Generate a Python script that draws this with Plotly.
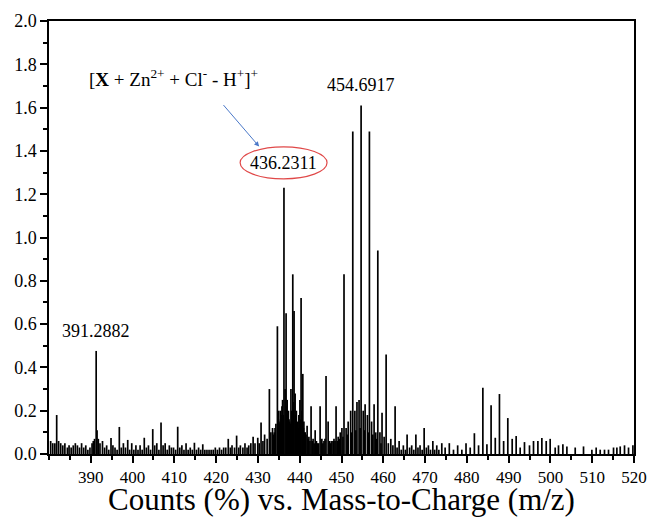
import plotly.graph_objects as go

# ---- data (m/z, relative intensity) ----
mz = [
    380.4, 380.9, 381.4, 381.84, 382.3, 382.8, 383.3, 383.8, 384.4, 384.8, 385.3, 385.8,
    386.3, 386.8, 387.3, 387.8, 388.3, 388.8, 389.3, 389.8, 390.3, 390.6, 390.9, 391.29,
    391.5, 391.8, 392.2, 392.8, 393.3, 393.8, 394.3, 394.84, 395.3, 395.8, 396.3, 396.83,
    397.3, 397.8, 398.3, 398.84, 399.3, 399.8, 400.3, 400.8, 401.3, 401.8, 402.3, 402.8,
    403.3, 403.8, 404.3, 404.83, 405.3, 405.8, 406.3, 406.81, 407.3, 407.8, 408.3, 408.8,
    409.3, 409.8, 410.3, 410.8, 411.3, 411.8, 412.3, 412.8, 413.3, 413.8, 414.3, 414.8,
    415.3, 415.8, 416.3, 416.8, 417.3, 417.8, 418.3, 418.8, 419.3, 419.8, 420.3, 420.8,
    421.3, 421.8, 422.3, 422.9, 423.4, 423.8, 424.4, 424.9, 425.4, 425.8, 426.4, 426.9,
    427.4, 427.8, 428.3, 428.85, 429.3, 429.96, 430.3, 430.75, 431.2, 431.6, 432.2, 432.74,
    433.1, 433.5, 433.9, 434.3, 434.66, 435.0, 435.3, 435.6, 435.9, 436.23, 436.5, 436.74,
    437.0, 437.3, 437.6, 437.9, 438.34, 438.65, 438.9, 439.2, 439.5, 439.8, 440.05, 440.33,
    440.74, 441.0, 441.3, 441.77, 442.2, 442.72, 443.2, 443.7, 444.2, 444.88, 445.3, 445.8,
    446.3, 446.8, 447.2, 447.7, 448.2, 448.7, 449.2, 449.7, 450.1, 450.6, 451.1, 451.6,
    452.2, 452.7, 453.2, 453.7, 454.2, 454.69, 455.2, 455.65, 456.2, 456.68, 457.2, 457.8,
    458.2, 458.69, 459.2, 459.7, 460.2, 460.68, 461.2, 461.8, 462.3, 462.83, 463.3, 463.79,
    464.3, 464.8, 465.3, 465.7, 466.3, 466.8, 467.3, 467.8, 468.3, 468.8, 469.3, 469.78,
    470.3, 470.8, 471.3, 471.86, 472.3, 472.8, 473.3, 474.0, 474.8, 475.8, 476.8, 477.8,
    478.8, 479.8, 480.8, 481.8, 482.8, 483.83, 484.8, 485.8, 486.8, 487.8, 488.8, 489.8,
    490.85, 491.8, 492.76, 493.79, 494.99, 495.95, 497.0, 497.95, 498.99, 499.94, 501.14, 501.93,
    502.98, 503.94, 505.93, 507.92, 509.92, 510.95, 511.91, 512.94, 513.9, 515.1, 515.9, 516.7,
    517.73, 518.69, 519.74,
    # extra weak lines filling the dense 433-450 region
    433.7, 434.1, 434.9, 435.15, 435.45, 435.75, 436.05, 436.9, 437.15, 437.45, 437.75, 438.1,
    438.5, 439.05, 439.35, 439.65, 439.95, 440.2, 440.55, 440.9, 441.15, 441.5, 442.0, 442.45,
    443.0, 443.45, 444.0, 444.5, 445.55, 446.05, 447.0, 447.45, 448.0, 448.45, 449.0, 449.45,
    450.35, 451.35, 452.45, 453.45, 454.45, 455.45, 456.45, 457.5, 458.45, 459.45,
]
intensity = [
    0.06, 0.05, 0.05, 0.18, 0.06, 0.05, 0.04, 0.05, 0.03, 0.04, 0.03, 0.04,
    0.05, 0.04, 0.03, 0.05, 0.03, 0.04, 0.02, 0.03, 0.05, 0.06, 0.07, 0.476,
    0.11, 0.07, 0.05, 0.06, 0.03, 0.04, 0.02, 0.074, 0.04, 0.03, 0.02, 0.125,
    0.03, 0.05, 0.03, 0.065, 0.02, 0.05, 0.02, 0.04, 0.02, 0.04, 0.02, 0.075,
    0.03, 0.04, 0.02, 0.115, 0.04, 0.05, 0.02, 0.145, 0.04, 0.05, 0.02, 0.04,
    0.03, 0.03, 0.02, 0.126, 0.03, 0.04, 0.02, 0.05, 0.02, 0.03, 0.02, 0.052,
    0.02, 0.03, 0.02, 0.045, 0.02, 0.02, 0.02, 0.02, 0.02, 0.03, 0.02, 0.03,
    0.02, 0.03, 0.03, 0.07, 0.03, 0.04, 0.03, 0.085, 0.03, 0.04, 0.03, 0.05,
    0.03, 0.04, 0.05, 0.08, 0.05, 0.075, 0.05, 0.145, 0.06, 0.09, 0.07, 0.30,
    0.10, 0.12, 0.10, 0.14, 0.59, 0.20, 0.15, 0.18, 0.25, 1.23, 0.30, 0.65,
    0.25, 0.20, 0.15, 0.30, 0.83, 0.66, 0.28, 0.20, 0.15, 0.18, 0.25, 0.72,
    0.37, 0.15, 0.10, 0.13, 0.08, 0.22, 0.07, 0.11, 0.05, 0.22, 0.07, 0.06,
    0.36, 0.15, 0.06, 0.06, 0.07, 0.22, 0.08, 0.10, 0.12, 0.83, 0.12, 0.15,
    0.20, 1.49, 0.20, 0.24, 0.25, 1.61, 0.20, 0.23, 0.18, 1.49, 0.15, 0.23,
    0.10, 0.94, 0.10, 0.19, 0.08, 0.46, 0.05, 0.07, 0.04, 0.22, 0.03, 0.06,
    0.02, 0.04, 0.02, 0.09, 0.03, 0.04, 0.02, 0.09, 0.03, 0.04, 0.02, 0.12,
    0.03, 0.04, 0.02, 0.06, 0.02, 0.04, 0.02, 0.05, 0.03, 0.05, 0.02, 0.04,
    0.02, 0.05, 0.03, 0.096, 0.04, 0.306, 0.045, 0.225, 0.075, 0.277, 0.06, 0.166,
    0.07, 0.083, 0.03, 0.055, 0.04, 0.06, 0.06, 0.074, 0.06, 0.07, 0.03, 0.04,
    0.045, 0.035, 0.03, 0.035, 0.02, 0.03, 0.02, 0.02, 0.02, 0.03, 0.03, 0.035,
    0.04, 0.03, 0.04,
    0.09, 0.12, 0.16, 0.14, 0.20, 0.22, 0.18, 0.22, 0.18, 0.16, 0.14, 0.20,
    0.24, 0.18, 0.14, 0.12, 0.15, 0.16, 0.20, 0.12, 0.10, 0.09, 0.07, 0.06,
    0.06, 0.05, 0.06, 0.05, 0.05, 0.07, 0.05, 0.05, 0.06, 0.06, 0.06, 0.07,
    0.08, 0.09, 0.10, 0.11, 0.12, 0.11, 0.10, 0.09, 0.07, 0.05,
]

labelled_peaks = [391.29, 436.23, 454.69]
labelled_text = ["391.2882", "436.2311", "454.6917"]

x_ticks = list(range(390, 521, 10))
y_ticks = [0.0, 0.2, 0.4, 0.6, 0.8, 1.0, 1.2, 1.4, 1.6, 1.8, 2.0]

# ---- build stick spectrum ----
xs, ys = [], []
for m, h in zip(mz, intensity):
    xs += [m, m, None]
    ys += [0, h, None]

FONT = "Liberation Serif"
fig = go.Figure()
fig.add_trace(go.Scatter(x=xs, y=ys, mode="lines",
                         line=dict(color="black", width=1.7),
                         hoverinfo="skip", showlegend=False))

peak_h = {m: h for m, h in zip(mz, intensity)}

# peak labels
lab_offsets = {391.29: (0.0, 0.09), 436.23: (0.0, 0.114), 454.69: (0.0, 0.095)}
for m, t in zip(labelled_peaks, labelled_text):
    dx, dy = lab_offsets[m]
    fig.add_annotation(x=m + dx, y=peak_h[m] + dy, text=t, showarrow=False,
                       font=dict(family=FONT, size=18, color="black"),
                       xanchor="center", yanchor="middle")

# red ellipse around 436.2311
cx, cy = 436.14, peak_h[436.23] + 0.115
fig.add_shape(type="circle", xref="x", yref="y",
              x0=cx - 10.4, x1=cx + 10.4, y0=cy - 0.074, y1=cy + 0.074,
              line=dict(color="#E04848", width=1.2))

# formula label with arrow
fig.add_annotation(x=430.3, y=1.42, ax=-37, ay=-43, text="",
                   showarrow=True, arrowhead=2, arrowsize=1, arrowwidth=1,
                   arrowcolor="#4A78C8", standoff=0)
fig.add_annotation(xref="paper", yref="paper",
                   x=(173 - 49) / 585, y=(454 - 78) / 433,
                   text="[<b>X</b> + Zn<sup>2+</sup> + Cl<sup>-</sup> - H<sup>+</sup>]<sup>+</sup>",
                   showarrow=False, font=dict(family=FONT, size=19, color="black"),
                   xanchor="center", yanchor="middle")

# x-axis title
fig.add_annotation(xref="paper", yref="paper", x=0.5, y=-(499 - 454) / 433,
                   text="Counts (%) vs. Mass-to-Charge (m/z)", showarrow=False,
                   font=dict(family=FONT, size=31, color="black"),
                   xanchor="center", yanchor="middle")

fig.update_xaxes(range=[380, 520], tickvals=x_ticks, ticks="outside", ticklen=7,
                 tickwidth=1.5, tickcolor="black", showline=True, linecolor="black",
                 linewidth=1.5, mirror=True, showgrid=False, zeroline=False,
                 automargin=False,
                 tickfont=dict(family=FONT, size=17, color="black"),
                 minor=dict(dtick=5, tick0=380, ticks="outside", ticklen=4,
                            tickwidth=1.5, tickcolor="black"))
fig.update_yaxes(range=[0, 2.0], tickvals=y_ticks, tickformat=".1f", ticks="outside",
                 ticklen=7, tickwidth=1.5, tickcolor="black", showline=True,
                 linecolor="black", linewidth=1.5, mirror=True, showgrid=False,
                 zeroline=False, automargin=False,
                 tickfont=dict(family=FONT, size=18, color="black"),
                 minor=dict(dtick=0.1, tick0=0, ticks="outside", ticklen=4,
                            tickwidth=1.5, tickcolor="black"))

fig.update_layout(width=651, height=518, margin=dict(l=49, r=17, t=21, b=64),
                  plot_bgcolor="white", paper_bgcolor="white",
                  font=dict(family=FONT, color="black"))

fig.write_html("out.html")
